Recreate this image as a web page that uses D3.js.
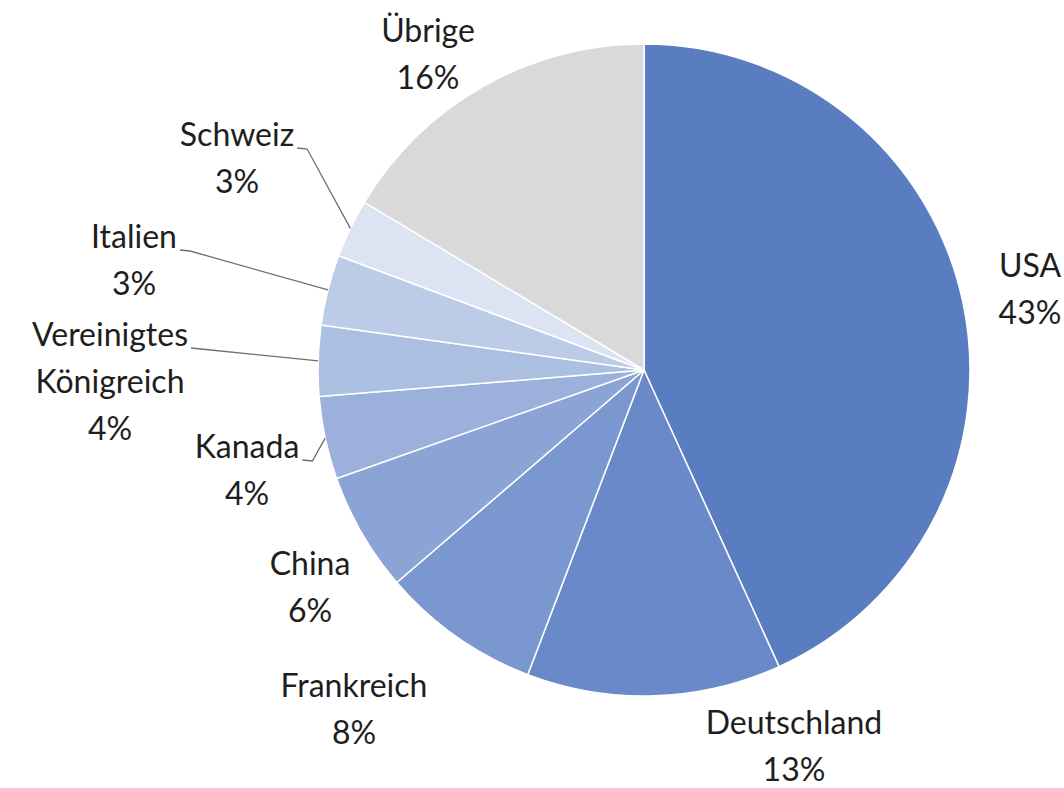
<!DOCTYPE html>
<html>
<head>
<meta charset="utf-8">
<script src="https://cdn.jsdelivr.net/npm/d3@7"></script>
<style>
  body { margin: 0; background: #fff; }
  svg text { font-family: Lato, "Open Sans", sans-serif; font-size: 32px; fill: #1e1e1e; }
</style>
</head>
<body>
<svg width="1064" height="788"></svg>
<script>
// values (shares in %), clockwise from 12 o'clock
var names  = ['USA', 'Deutschland', 'Frankreich', 'China', 'Kanada', 'Vereinigtes Königreich', 'Italien', 'Schweiz', 'Übrige']
var values = [43.2, 12.6, 7.9, 5.9, 4.1, 3.5, 3.5, 2.9, 16.4]
var shown  = ['43%', '13%', '8%', '6%', '4%', '4%', '3%', '3%', '16%']
var colors = ['#5a7cc1', '#6a89c8', '#7b97cf', '#8ba4d5', '#9bb1db', '#abbfe1', '#bccbe8', '#dce3f3', '#d9d9d9']

// label layout: centre x, first baseline y, and whether a leader line is drawn
var layout = {
  'USA':                    {x: 1030, y: 277},
  'Deutschland':            {x: 794,  y: 734},
  'Frankreich':             {x: 354,  y: 697},
  'China':                  {x: 310,  y: 575},
  'Kanada':                 {x: 247,  y: 458, leader: true},
  'Vereinigtes Königreich': {x: 110,  y: 346, leader: true},
  'Italien':                {x: 134,  y: 248, leader: true},
  'Schweiz':                {x: 237,  y: 146, leader: true},
  'Übrige':                 {x: 428,  y: 42}
}

var svg = d3.select('svg')
var cx = 644, cy = 370, r = 326, lineH = 47

var data = names.map((name, i) => ({name, value: values[i], shown: shown[i], color: colors[i]}))

var pie = d3.pie().value(d => d.value).sort(null)
var arc = d3.arc().innerRadius(0).outerRadius(r)
var arcs = pie(data)

var g = svg.append('g').attr('transform', `translate(${cx},${cy})`)

g.selectAll('path.slice').data(arcs).join('path')
  .attr('class', 'slice')
  .attr('d', arc)
  .attr('fill', d => d.data.color)
  .attr('stroke', '#fff')
  .attr('stroke-width', 1.5)
  .attr('stroke-linejoin', 'round')

var labels = svg.selectAll('g.label').data(arcs).join('g').attr('class', 'label')

labels.each(function(d){
  var sel = d3.select(this)
  var pos = layout[d.data.name]
  var lines = d.data.name.split(' ').concat([d.data.shown])
  var t = sel.append('text').attr('text-anchor', 'middle')
  lines.forEach((s, i) => {
    t.append('tspan').attr('x', pos.x).attr('y', pos.y + i * lineH).text(s)
  })

  if (pos.leader){
    // leader from end of first line to the slice's mid point on the rim
    var w = t.select('tspan').node().getComputedTextLength()
    var sx = pos.x + w / 2 + 3, sy = pos.y + 2
    var a = (d.startAngle + d.endAngle) / 2
    var ex = cx + r * Math.sin(a), ey = cy - r * Math.cos(a)
    sel.append('path')
      .attr('d', d3.line()([[sx, sy], [sx + 10, sy + 1], [ex, ey]]))
      .attr('fill', 'none')
      .attr('stroke', '#6f6f6f')
      .attr('stroke-width', 1.3)
  }
})
</script>
</body>
</html>
